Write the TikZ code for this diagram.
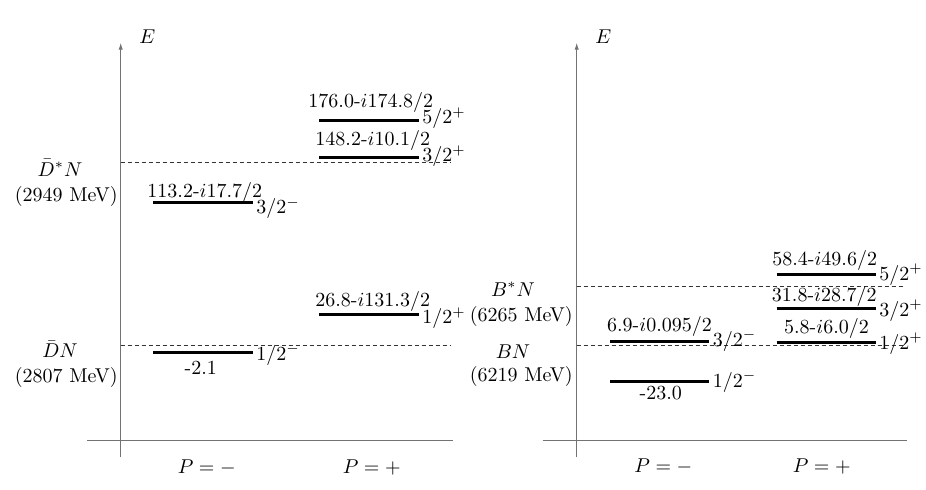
\documentclass[tikz,border=0pt]{standalone}
\usetikzlibrary{arrows.meta}
\begin{document}
\begin{tikzpicture}[x=0.5pt,y=-0.5pt,
  axis/.style={draw=black!55, line width=0.5pt},
  level/.style={line width=1.5pt, line cap=butt},
  thr/.style={dash pattern=on 2pt off 1.5pt, line width=0.4pt, draw=black!80},
  vlab/.style={inner sep=0pt, anchor=base},
  jlab/.style={inner sep=0pt, anchor=base west},
  chan/.style={inner sep=0pt, anchor=base east},
  chanc/.style={inner sep=0pt, anchor=base},
]
\useasboundingbox (0,0) rectangle (926,489);

% ---------- left panel ----------
\coordinate (lya) at (120.7,457);
\coordinate (lyb) at (120.7,42.7);
\coordinate (lxa) at (87.3,440);
\coordinate (lxb) at (452.7,440);
\draw[axis,-{Latex[length=3.5pt,width=2.2pt]}] (lya) -- (lyb);
\draw[axis] (lxa) -- (lxb);
\node[jlab] (lE) at (139,43) {$E$};

\coordinate (lt1a) at (120.7,162.5);
\coordinate (lt1b) at (450,162.5);
\coordinate (lt2a) at (120.7,345.5);
\coordinate (lt2b) at (450,345.5);
\draw[thr] (lt1a) -- (lt1b);
\draw[thr] (lt2a) -- (lt2b);

\node[chanc] (ldsn) at (60,176) {$\bar D^*N$};
\node[chan] (ldsnm) at (118,201.5) {(2949 MeV)};
\node[chanc] (ldn) at (60,357.3) {$\bar D N$};
\node[chan] (ldnm) at (118,382.5) {(2807 MeV)};

% levels P=+
\coordinate (a1) at (319.3,120.5); \coordinate (b1) at (419.3,120.5);
\draw[level] (a1) -- (b1);
\node[vlab] (v1) at (370.8,107.3) {176.0-$i$174.8/2};
\node[jlab] (j1) at (422,123.3) {$5/2^+$};

\coordinate (a2) at (319.3,157.3); \coordinate (b2) at (419.3,157.3);
\draw[level] (a2) -- (b2);
\node[vlab] (v2) at (372.8,145) {148.2-$i$10.1/2};
\node[jlab] (j2) at (422,161.7) {$3/2^+$};

\coordinate (a3) at (319.3,314.5); \coordinate (b3) at (419.3,314.5);
\draw[level] (a3) -- (b3);
\node[vlab] (v3) at (372.7,306.7) {26.8-$i$131.3/2};
\node[jlab] (j3) at (422,323.3) {$1/2^+$};

% levels P=-
\coordinate (a4) at (153,202.5); \coordinate (b4) at (253.3,202.5);
\draw[level] (a4) -- (b4);
\node[vlab] (v4) at (204.8,197.3) {113.2-$i$17.7/2};
\node[jlab] (j4) at (256,213.3) {$3/2^-$};

\coordinate (a5) at (153,352.5); \coordinate (b5) at (253.3,352.5);
\draw[level] (a5) -- (b5);
\node[vlab] (v5) at (200.8,374.5) {-2.1};
\node[jlab] (j5) at (256,360) {$1/2^-$};

\node[chanc] (lpm) at (206.7,473) {$P=-$};
\node[chanc] (lpp) at (371.7,473) {$P=+$};

% ---------- right panel ----------
\coordinate (rya) at (576.7,457);
\coordinate (ryb) at (576.7,42.7);
\coordinate (rxa) at (542.7,440);
\coordinate (rxb) at (907.3,440);
\draw[axis,-{Latex[length=3.5pt,width=2.2pt]}] (rya) -- (ryb);
\draw[axis] (rxa) -- (rxb);
\node[jlab] (rE) at (595,43) {$E$};

\coordinate (rt1a) at (576.7,286.3);
\coordinate (rt1b) at (905,286.3);
\coordinate (rt2a) at (576.7,345.5);
\coordinate (rt2b) at (905,345.5);
\draw[thr] (rt1a) -- (rt1b);
\draw[thr] (rt2a) -- (rt2b);

\node[chanc] (rbsn) at (513,296) {$B^*N$};
\node[chan] (rbsnm) at (573,321) {(6265 MeV)};
\node[chanc] (rbn) at (513,358) {$B N$};
\node[chan] (rbnm) at (573,381.5) {(6219 MeV)};

% levels P=+
\coordinate (c1) at (776.5,274); \coordinate (d1) at (875.5,274);
\draw[level] (c1) -- (d1);
\node[vlab] (w1) at (824.7,265.5) {58.4-$i$49.6/2};
\node[jlab] (k1) at (879,280) {$5/2^+$};

\coordinate (c2) at (776.5,308.3); \coordinate (d2) at (875.5,308.3);
\draw[level] (c2) -- (d2);
\node[vlab] (w2) at (824.3,301.7) {31.8-$i$28.7/2};
\node[jlab] (k2) at (879,316) {$3/2^+$};

\coordinate (c3) at (776.5,342.3); \coordinate (d3) at (875.5,342.3);
\draw[level] (c3) -- (d3);
\node[vlab] (w3) at (826.5,333.3) {5.8-$i$6.0/2};
\node[jlab] (k3) at (879,349) {$1/2^+$};

% levels P=-
\coordinate (c4) at (610,341); \coordinate (d4) at (709.3,341);
\draw[level] (c4) -- (d4);
\node[vlab] (w4) at (659.5,331.7) {6.9-$i$0.095/2};
\node[jlab] (k4) at (712.5,346) {$3/2^-$};

\coordinate (c5) at (610,381); \coordinate (d5) at (709.3,381);
\draw[level] (c5) -- (d5);
\node[vlab] (w5) at (660.8,399.5) {-23.0};
\node[jlab] (k5) at (712.5,387) {$1/2^-$};

\node[chanc] (rpm) at (663.3,472) {$P=-$};
\node[chanc] (rpp) at (821.7,472) {$P=+$};
\end{tikzpicture}
\end{document}
